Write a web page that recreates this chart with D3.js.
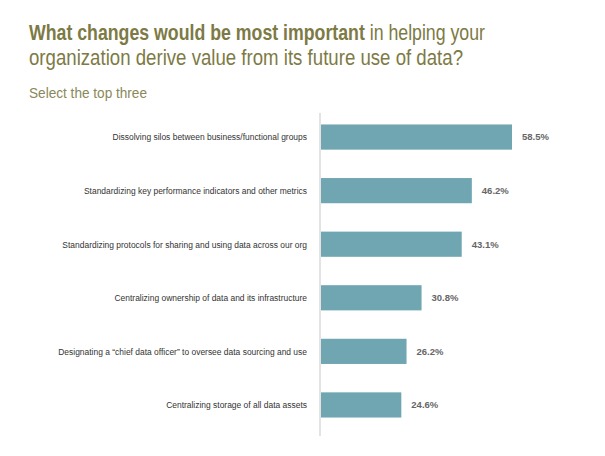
<!DOCTYPE html>
<html><head><meta charset="utf-8">
<script src="https://cdn.jsdelivr.net/npm/d3@7"></script>
<style>body{margin:0;background:#fff}</style>
</head><body><div id="chart"></div>
<script>
const categories = [
  "Dissolving silos between business/functional groups",
  "Standardizing key performance indicators and other metrics",
  "Standardizing protocols for sharing and using data across our org",
  "Centralizing ownership of data and its infrastructure",
  "Designating a \u201cchief data officer\u201d to oversee data sourcing and use",
  "Centralizing storage of all data assets"
];
const values = [58.5, 46.2, 43.1, 30.8, 26.2, 24.6];

const font = "'Liberation Sans', Arial, sans-serif";
const svg = d3.select("#chart").append("svg").attr("width", 605).attr("height", 456);

const title = svg.append("text").attr("x", 29).attr("y", 40)
  .attr("font-family", font).attr("font-size", 22).attr("fill", "#7d7a45")
  .attr("textLength", 456).attr("lengthAdjust", "spacingAndGlyphs");
title.append("tspan").attr("font-weight", "bold").text("What changes would be most important");
title.append("tspan").text(" in helping your");
svg.append("text").attr("x", 29).attr("y", 65).attr("font-family", font)
  .attr("font-size", 22).attr("fill", "#7d7a45")
  .attr("textLength", 434).attr("lengthAdjust", "spacingAndGlyphs")
  .text("organization derive value from its future use of data?");
svg.append("text").attr("x", 29).attr("y", 98).attr("font-family", font)
  .attr("font-size", 14.5).attr("fill", "#8a8758")
  .attr("textLength", 118).attr("lengthAdjust", "spacingAndGlyphs")
  .text("Select the top three");

const x = d3.scaleLinear().domain([0, 58.5]).range([321, 512]);
const y = d3.scaleBand().domain(categories).range([110, 432]).paddingInner(0.53).paddingOuter(0.27);

svg.append("line").attr("x1", 320).attr("x2", 320).attr("y1", 113).attr("y2", 436)
  .attr("stroke", "#d0d0d0").attr("stroke-width", 1.2);

svg.selectAll("rect.bar").data(values).join("rect").attr("class", "bar")
  .attr("x", x(0)).attr("y", (d, i) => y(categories[i]))
  .attr("width", d => x(d) - x(0)).attr("height", y.bandwidth())
  .attr("fill", "#6fa6b1");

svg.selectAll("text.cat").data(categories).join("text").attr("class", "cat")
  .attr("transform", d => `translate(307,${y(d) + y.bandwidth() / 2}) scale(0.89,1)`)
  .attr("dy", "0.35em")
  .attr("text-anchor", "end").attr("font-family", font).attr("font-size", 9.5)
  .attr("fill", "#333").text(d => d);

svg.selectAll("text.val").data(values).join("text").attr("class", "val")
  .attr("x", d => x(d) + 10).attr("y", (d, i) => y(categories[i]) + y.bandwidth() / 2)
  .attr("dy", "0.35em").attr("font-family", font).attr("font-size", 9.5)
  .attr("font-weight", "bold").attr("fill", "#666").text(d => d.toFixed(1) + "%");
</script></body></html>
